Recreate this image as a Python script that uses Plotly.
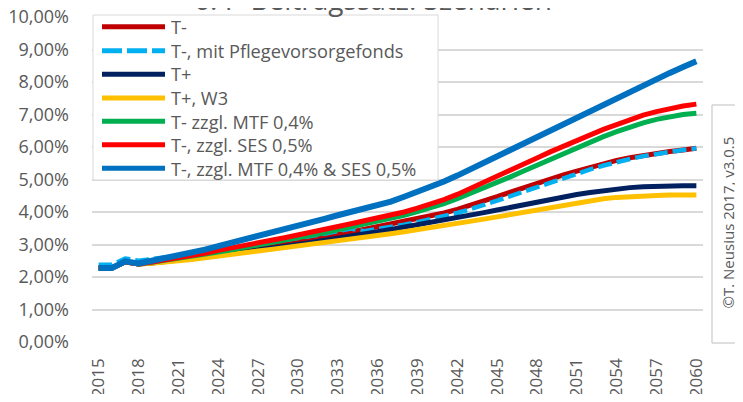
import plotly.graph_objects as go

years = list(range(2015, 2061))
tick_years = list(range(2015, 2061, 3))
tick_labels = [str(y) for y in tick_years]
y_ticks = list(range(0, 11))
y_tick_labels = [f"{v},00%" for v in y_ticks]

title_text = "6. P-Beitragssatz: Szenarien"
credit_text = "©T. Neusius 2017, v3.0.5"

names = [
    "T-",
    "T-, mit Pflegevorsorgefonds",
    "T+",
    "T+, W3",
    "T- zzgl. MTF 0,4%",
    "T-, zzgl. SES 0,5%",
    "T-, zzgl. MTF 0,4% & SES 0,5%",
]

t_minus = [2.28, 2.28, 2.47, 2.40, 2.44, 2.49, 2.54, 2.59, 2.65, 2.71,
           2.77, 2.84, 2.90, 2.96, 3.02, 3.08, 3.15, 3.22, 3.30, 3.38,
           3.46, 3.54, 3.62, 3.70, 3.79, 3.88, 3.97, 4.08, 4.20, 4.33,
           4.47, 4.61, 4.75, 4.89, 5.02, 5.14, 5.26, 5.38, 5.49, 5.59,
           5.67, 5.74, 5.80, 5.86, 5.91, 5.96]
t_minus_pvf = [2.38, 2.38, 2.57, 2.50, 2.55, 2.60, 2.65, 2.70, 2.76, 2.82,
               2.88, 2.94, 3.00, 3.06, 3.12, 3.19, 3.26, 3.33, 3.41, 3.49,
               3.41, 3.47, 3.54, 3.61, 3.69, 3.78, 3.87, 3.97, 4.09, 4.21,
               4.35, 4.49, 4.63, 4.78, 4.92, 5.05, 5.18, 5.31, 5.43, 5.54,
               5.63, 5.72, 5.79, 5.85, 5.91, 5.96]
t_plus = [2.28, 2.28, 2.47, 2.40, 2.43, 2.47, 2.52, 2.56, 2.61, 2.66,
          2.72, 2.77, 2.82, 2.88, 2.94, 3.00, 3.06, 3.12, 3.18, 3.25,
          3.32, 3.39, 3.46, 3.53, 3.60, 3.67, 3.74, 3.82, 3.90, 3.98,
          4.06, 4.14, 4.23, 4.32, 4.40, 4.47, 4.54, 4.60, 4.66, 4.71,
          4.75, 4.78, 4.80, 4.81, 4.81, 4.81]
t_plus_w3 = [2.28, 2.28, 2.47, 2.40, 2.42, 2.45, 2.49, 2.54, 2.59, 2.65,
             2.70, 2.75, 2.80, 2.85, 2.90, 2.95, 3.00, 3.05, 3.10, 3.15,
             3.21, 3.27, 3.33, 3.39, 3.45, 3.51, 3.57, 3.64, 3.71, 3.78,
             3.85, 3.92, 4.00, 4.08, 4.16, 4.23, 4.30, 4.36, 4.41, 4.45,
             4.48, 4.50, 4.51, 4.52, 4.52, 4.52]
t_minus_mtf = [2.28, 2.28, 2.47, 2.40, 2.45, 2.51, 2.56, 2.62, 2.69, 2.77,
               2.84, 2.91, 2.99, 3.06, 3.13, 3.20, 3.28, 3.36, 3.45, 3.54,
               3.63, 3.71, 3.79, 3.90, 4.01, 4.13, 4.26, 4.41, 4.57, 4.74,
               4.91, 5.08, 5.26, 5.44, 5.62, 5.82, 6.00, 6.16, 6.32, 6.47,
               6.61, 6.74, 6.85, 6.94, 7.00, 7.04]
t_minus_ses = [2.28, 2.28, 2.47, 2.40, 2.46, 2.52, 2.58, 2.65, 2.73, 2.82,
               2.89, 2.97, 3.05, 3.13, 3.21, 3.29, 3.37, 3.46, 3.55, 3.64,
               3.73, 3.81, 3.89, 4.00, 4.12, 4.24, 4.38, 4.54, 4.72, 4.90,
               5.08, 5.27, 5.46, 5.66, 5.85, 6.03, 6.20, 6.37, 6.54, 6.69,
               6.84, 6.98, 7.09, 7.18, 7.26, 7.32]
t_minus_mtf_ses = [2.28, 2.28, 2.48, 2.42, 2.50, 2.58, 2.66, 2.74, 2.84, 2.95,
                   3.05, 3.16, 3.27, 3.38, 3.48, 3.58, 3.68, 3.79, 3.90, 4.00,
                   4.10, 4.20, 4.32, 4.47, 4.62, 4.78, 4.94, 5.12, 5.32, 5.52,
                   5.72, 5.92, 6.12, 6.32, 6.52, 6.72, 6.92, 7.12, 7.32, 7.52,
                   7.72, 7.92, 8.10, 8.28, 8.46, 8.64]

series = [t_minus, t_minus_pvf, t_plus, t_plus_w3, t_minus_mtf, t_minus_ses, t_minus_mtf_ses]
colors = ["#C00000", "#00B0F0", "#002060", "#FFC000", "#00B050", "#FF0000", "#0070C0"]
widths = [5, 4.5, 5, 5, 5, 5, 6]
dashes = ["solid", "14px,5px", "solid", "solid", "solid", "solid", "solid"]

FONT = "Open Sans"
TXT = "#595959"
PAGE = 8                      # default page margin of the html body
W, H = 743 - 2 * PAGE, 402 - 2 * PAGE
# plot area in screen pixels
L, R, T, B = 92, 703, 17, 342


def px(xr):
    return (xr - L) / (R - L)


def py(yr):
    return (B - yr) / (B - T)


fig = go.Figure()
for name, vals, c, w, d in zip(names, series, colors, widths, dashes):
    fig.add_trace(go.Scatter(x=years, y=vals, name=name, mode="lines",
                             line=dict(color=c, width=w, dash=d),
                             showlegend=False))

shapes = []
annotations = []
# legend box
shapes.append(dict(type="rect", xref="paper", yref="paper",
                   x0=px(93), x1=px(438), y0=py(180), y1=py(15),
                   fillcolor="white", line=dict(color="#D9D9D9", width=1), layer="above"))
rows = [26.7, 50.7, 74.3, 98.0, 121.3, 144.8, 168.3]
for c, d, ry in zip(colors, dashes, rows):
    shapes.append(dict(type="line", xref="paper", yref="paper",
                       x0=px(102), x1=px(165), y0=py(ry), y1=py(ry),
                       line=dict(color=c, width=5, dash=("20px,5px" if d != "solid" else "solid")),
                       layer="above"))
annotations.append(dict(text="<br>".join(names), xref="paper", yref="paper",
                        x=px(169), y=py((rows[0] + rows[-1]) / 2 + 0.5),
                        xanchor="left", yanchor="middle", align="left",
                        showarrow=False, font=dict(family=FONT, size=18.2, color=TXT)))

# credit box
shapes.append(dict(type="rect", xref="paper", yref="paper",
                   x0=px(712), x1=px(760), y0=py(343), y1=py(105),
                   fillcolor="white", line=dict(color="#BFBFBF", width=1), layer="above"))
annotations.append(dict(text=credit_text, xref="paper", yref="paper",
                        x=px(727.5), y=py(223), xanchor="center", yanchor="middle",
                        textangle=-90, showarrow=False,
                        font=dict(family=FONT, size=15, color=TXT)))
# title (mostly cut off at top)
annotations.append(dict(text=title_text, xref="paper", yref="paper",
                        x=px(373), y=py(-1), xanchor="center", yanchor="middle",
                        showarrow=False, font=dict(family=FONT, size=28, color=TXT)))

fig.update_layout(
    width=W, height=H,
    margin=dict(l=L - PAGE, r=(W + PAGE) - R, t=T - PAGE, b=(H + PAGE) - B, pad=0, autoexpand=False),
    paper_bgcolor="white", plot_bgcolor="white",
    showlegend=False,
    shapes=shapes, annotations=annotations,
    font=dict(family=FONT, size=18, color=TXT),
    xaxis=dict(range=[2014.5, 2060.5], tickmode="array", tickvals=tick_years,
               ticktext=tick_labels, tickangle=-90, showgrid=False, zeroline=False,
               showline=False, ticks="", ticklabelstandoff=12, automargin=False,
               ticklabeloverflow="allow",
               tickfont=dict(family=FONT, size=17, color=TXT)),
    yaxis=dict(range=[0, 10], tickmode="array", tickvals=y_ticks, ticktext=y_tick_labels,
               showgrid=True, gridcolor="#D9D9D9", gridwidth=1.5, zeroline=False,
               showline=False, ticks="", ticklabelstandoff=22, automargin=False,
               ticklabeloverflow="allow",
               tickfont=dict(family=FONT, size=18, color=TXT)),
)

fig.write_html("out.html")
